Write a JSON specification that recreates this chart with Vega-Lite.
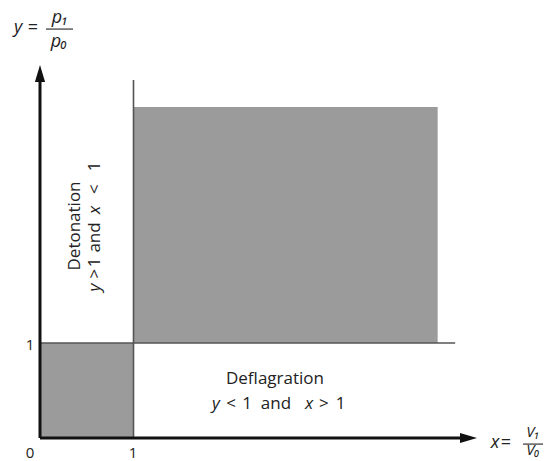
{
  "$schema": "https://vega.github.io/schema/vega-lite/v6.json",
  "width": 545,
  "height": 461,
  "padding": 0,
  "autosize": "none",
  "background": "white",
  "config": {"view": {"stroke": null}, "text": {"font": "Open Sans", "fill": "#222"}},
  "layer": [
    {
      "data": {"values": [
        {"x": 0, "x2": 1, "y": 0, "y2": 1},
        {"x": 1, "x2": 4.253, "y": 1, "y2": 3.484}
      ]},
      "mark": {"type": "rect", "fill": "#9b9b9b"},
      "encoding": {
        "x": {"field": "x", "type": "quantitative", "scale": {"domain": [-0.4278, 5.401], "nice": false, "zero": false}, "axis": null},
        "x2": {"field": "x2"},
        "y": {"field": "y", "type": "quantitative", "scale": {"domain": [-0.242, 4.611], "nice": false, "zero": false}, "axis": null},
        "y2": {"field": "y2"}
      }
    },
    {
      "data": {"values": [
        {"x": 0, "x2": 4.44, "y": 1, "y2": 1},
        {"x": 1, "x2": 1, "y": 0, "y2": 3.77}
      ]},
      "mark": {"type": "rule", "stroke": "#555", "strokeWidth": 1.6},
      "encoding": {
        "x": {"field": "x", "type": "quantitative", "scale": {"domain": [-0.4278, 5.401], "nice": false, "zero": false}, "axis": null},
        "x2": {"field": "x2"},
        "y": {"field": "y", "type": "quantitative", "scale": {"domain": [-0.242, 4.611], "nice": false, "zero": false}, "axis": null},
        "y2": {"field": "y2"}
      }
    },
    {
      "data": {"values": [
        {"x": 0, "x2": 4.55, "y": 0, "y2": 0},
        {"x": 0, "x2": 0, "y": 0, "y2": 3.80}
      ]},
      "mark": {"type": "rule", "stroke": "#111", "strokeWidth": 3},
      "encoding": {
        "x": {"field": "x", "type": "quantitative", "scale": {"domain": [-0.4278, 5.401], "nice": false, "zero": false}, "axis": null},
        "x2": {"field": "x2"},
        "y": {"field": "y", "type": "quantitative", "scale": {"domain": [-0.242, 4.611], "nice": false, "zero": false}, "axis": null},
        "y2": {"field": "y2"}
      }
    },
    {
      "data": {"values": [{"x": 4.583, "y": 0}]},
      "mark": {"type": "point", "shape": "M-1,-0.6L1,0L-1,0.6Z", "size": 289, "filled": true, "fill": "#111", "opacity": 1, "strokeWidth": 0},
      "encoding": {
        "x": {"field": "x", "type": "quantitative", "scale": {"domain": [-0.4278, 5.401], "nice": false, "zero": false}, "axis": null},
        "y": {"field": "y", "type": "quantitative", "scale": {"domain": [-0.242, 4.611], "nice": false, "zero": false}, "axis": null}
      }
    },
    {
      "data": {"values": [{"x": 0, "y": 3.837}]},
      "mark": {"type": "point", "shape": "M-0.6,1L0,-1L0.6,1Z", "size": 289, "filled": true, "fill": "#111", "opacity": 1, "strokeWidth": 0},
      "encoding": {
        "x": {"field": "x", "type": "quantitative", "scale": {"domain": [-0.4278, 5.401], "nice": false, "zero": false}, "axis": null},
        "y": {"field": "y", "type": "quantitative", "scale": {"domain": [-0.242, 4.611], "nice": false, "zero": false}, "axis": null}
      }
    },
    {
      "data": {"values": [
        {"x": 0.064, "x2": 0.353, "y": 4.305, "y2": 4.305},
        {"x": 5.166, "x2": 5.38, "y": -0.064, "y2": -0.064}
      ]},
      "mark": {"type": "rule", "stroke": "#333", "strokeWidth": 1.2},
      "encoding": {
        "x": {"field": "x", "type": "quantitative", "scale": {"domain": [-0.4278, 5.401], "nice": false, "zero": false}, "axis": null},
        "x2": {"field": "x2"},
        "y": {"field": "y", "type": "quantitative", "scale": {"domain": [-0.242, 4.611], "nice": false, "zero": false}, "axis": null},
        "y2": {"field": "y2"}
      }
    },
    {
      "data": {"values": [
        {"t": "0", "x": -0.107, "y": -0.158},
        {"t": "1", "x": 0.995, "y": -0.158},
        {"t": "1", "x": -0.107, "y": 0.979}
      ]},
      "mark": {"type": "text", "fontSize": 15, "align": "center", "baseline": "middle"},
      "encoding": {
        "x": {"field": "x", "type": "quantitative", "scale": {"domain": [-0.4278, 5.401], "nice": false, "zero": false}, "axis": null},
        "y": {"field": "y", "type": "quantitative", "scale": {"domain": [-0.242, 4.611], "nice": false, "zero": false}, "axis": null},
        "text": {"field": "t"}
      }
    },
    {
      "data": {"values": [
        {"t": "=", "x": -0.075, "y": 4.316},
        {"t": "=", "x": 4.984, "y": -0.053}
      ]},
      "mark": {"type": "text", "fontSize": 18, "align": "center", "baseline": "middle"},
      "encoding": {
        "x": {"field": "x", "type": "quantitative", "scale": {"domain": [-0.4278, 5.401], "nice": false, "zero": false}, "axis": null},
        "y": {"field": "y", "type": "quantitative", "scale": {"domain": [-0.242, 4.611], "nice": false, "zero": false}, "axis": null},
        "text": {"field": "t"}
      }
    },
    {
      "data": {"values": [
        {"t": "y", "x": -0.235, "y": 4.316},
        {"t": "p₁", "x": 0.214, "y": 4.421},
        {"t": "p₀", "x": 0.203, "y": 4.168},
        {"t": "x", "x": 4.866, "y": -0.053}
      ]},
      "mark": {"type": "text", "fontSize": 18, "fontStyle": "italic", "align": "center", "baseline": "middle"},
      "encoding": {
        "x": {"field": "x", "type": "quantitative", "scale": {"domain": [-0.4278, 5.401], "nice": false, "zero": false}, "axis": null},
        "y": {"field": "y", "type": "quantitative", "scale": {"domain": [-0.242, 4.611], "nice": false, "zero": false}, "axis": null},
        "text": {"field": "t"}
      }
    },
    {
      "data": {"values": [
        {"t": "V₁", "x": 5.273, "y": 0.068},
        {"t": "V₀", "x": 5.273, "y": -0.13}
      ]},
      "mark": {"type": "text", "fontSize": 15, "fontStyle": "italic", "align": "center", "baseline": "middle"},
      "encoding": {
        "x": {"field": "x", "type": "quantitative", "scale": {"domain": [-0.4278, 5.401], "nice": false, "zero": false}, "axis": null},
        "y": {"field": "y", "type": "quantitative", "scale": {"domain": [-0.242, 4.611], "nice": false, "zero": false}, "axis": null},
        "text": {"field": "t"}
      }
    },
    {
      "data": {"values": [
        {"t": "Deflagration", "x": 2.513, "y": 0.621},
        {"t": "<", "x": 2.043, "y": 0.358},
        {"t": "1", "x": 2.214, "y": 0.358},
        {"t": "and", "x": 2.524, "y": 0.358},
        {"t": ">", "x": 3.037, "y": 0.358},
        {"t": "1", "x": 3.214, "y": 0.358}
      ]},
      "mark": {"type": "text", "fontSize": 17, "align": "center", "baseline": "middle"},
      "encoding": {
        "x": {"field": "x", "type": "quantitative", "scale": {"domain": [-0.4278, 5.401], "nice": false, "zero": false}, "axis": null},
        "y": {"field": "y", "type": "quantitative", "scale": {"domain": [-0.242, 4.611], "nice": false, "zero": false}, "axis": null},
        "text": {"field": "t"}
      }
    },
    {
      "data": {"values": [
        {"t": "y", "x": 1.882, "y": 0.358},
        {"t": "x", "x": 2.877, "y": 0.358}
      ]},
      "mark": {"type": "text", "fontSize": 17, "fontStyle": "italic", "align": "center", "baseline": "middle"},
      "encoding": {
        "x": {"field": "x", "type": "quantitative", "scale": {"domain": [-0.4278, 5.401], "nice": false, "zero": false}, "axis": null},
        "y": {"field": "y", "type": "quantitative", "scale": {"domain": [-0.242, 4.611], "nice": false, "zero": false}, "axis": null},
        "text": {"field": "t"}
      }
    },
    {
      "data": {"values": [
        {"t": "Detonation", "x": 0.374, "y": 2.232},
        {"t": ">", "x": 0.588, "y": 1.73},
        {"t": "1", "x": 0.588, "y": 1.85},
        {"t": "and", "x": 0.588, "y": 2.111},
        {"t": "<", "x": 0.588, "y": 2.62},
        {"t": "1", "x": 0.588, "y": 2.86}
      ]},
      "mark": {"type": "text", "fontSize": 17, "angle": 270, "align": "center", "baseline": "middle"},
      "encoding": {
        "x": {"field": "x", "type": "quantitative", "scale": {"domain": [-0.4278, 5.401], "nice": false, "zero": false}, "axis": null},
        "y": {"field": "y", "type": "quantitative", "scale": {"domain": [-0.242, 4.611], "nice": false, "zero": false}, "axis": null},
        "text": {"field": "t"}
      }
    },
    {
      "data": {"values": [
        {"t": "y", "x": 0.588, "y": 1.584},
        {"t": "x", "x": 0.588, "y": 2.4}
      ]},
      "mark": {"type": "text", "fontSize": 17, "fontStyle": "italic", "angle": 270, "align": "center", "baseline": "middle"},
      "encoding": {
        "x": {"field": "x", "type": "quantitative", "scale": {"domain": [-0.4278, 5.401], "nice": false, "zero": false}, "axis": null},
        "y": {"field": "y", "type": "quantitative", "scale": {"domain": [-0.242, 4.611], "nice": false, "zero": false}, "axis": null},
        "text": {"field": "t"}
      }
    }
  ]
}
